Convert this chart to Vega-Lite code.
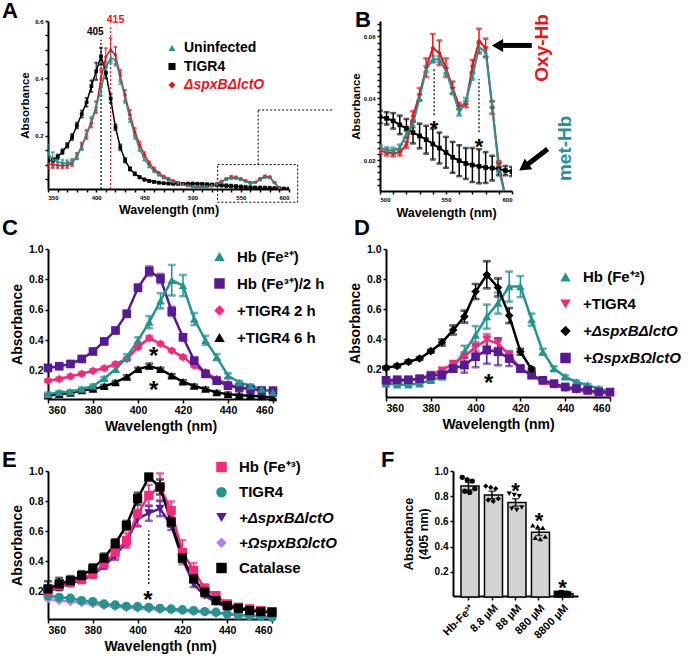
{
"$schema": "https://vega.github.io/schema/vega-lite/v6.json",
"padding": {"left": 2, "top": 0, "right": 0, "bottom": 0},
"config": {
  "view": {"stroke": null},
  "font": "Liberation Sans",
  "axis": {"domainColor": "black", "domainWidth": 2, "tickColor": "black", "tickWidth": 1.5, "labelFontWeight": "bold", "labelColor": "black", "titleFontWeight": "bold", "titleColor": "black", "grid": false, "labelFont": "Liberation Sans", "titleFont": "Liberation Sans", "labelOverlap": false},
  "legend": {"labelFontWeight": "bold", "labelColor": "black", "labelFont": "Liberation Sans", "padding": 0},
  "title": {"fontWeight": "bold", "anchor": "start", "frame": "group", "baseline": "alphabetic", "color": "black", "font": "Liberation Sans", "fontSize": 22}
},
"datasets": {
"dA": [
{"s":"TIGR4","x":350,"y":0.115,"e":0.008},{"s":"TIGR4","x":355,"y":0.115,"e":0.008},{"s":"TIGR4","x":360,"y":0.127,"e":0.008},{"s":"TIGR4","x":365,"y":0.145,"e":0.008},{"s":"TIGR4","x":370,"y":0.167,"e":0.008},{"s":"TIGR4","x":375,"y":0.196,"e":0.01},{"s":"TIGR4","x":380,"y":0.236,"e":0.01},{"s":"TIGR4","x":385,"y":0.276,"e":0.012},{"s":"TIGR4","x":390,"y":0.317,"e":0.015},{"s":"TIGR4","x":395,"y":0.373,"e":0.02},{"s":"TIGR4","x":400,"y":0.425,"e":0.03},{"s":"TIGR4","x":405,"y":0.477,"e":0.03},{"s":"TIGR4","x":410,"y":0.42,"e":0.02},{"s":"TIGR4","x":415,"y":0.33,"e":0.015},{"s":"TIGR4","x":420,"y":0.23,"e":0.01},{"s":"TIGR4","x":425,"y":0.16,"e":0.01},{"s":"TIGR4","x":430,"y":0.115,"e":0.008},{"s":"TIGR4","x":435,"y":0.085,"e":0.006},{"s":"TIGR4","x":440,"y":0.068,"e":0.005},{"s":"TIGR4","x":445,"y":0.056,"e":0.004},{"s":"TIGR4","x":450,"y":0.048,"e":0.003},{"s":"TIGR4","x":455,"y":0.043,"e":0.003},{"s":"TIGR4","x":460,"y":0.04,"e":0.003},{"s":"TIGR4","x":465,"y":0.037,"e":0.002},{"s":"TIGR4","x":470,"y":0.035,"e":0.002},{"s":"TIGR4","x":475,"y":0.034,"e":0.002},{"s":"TIGR4","x":480,"y":0.033,"e":0.002},{"s":"TIGR4","x":485,"y":0.033,"e":0.002},{"s":"TIGR4","x":490,"y":0.033,"e":0.002},{"s":"TIGR4","x":495,"y":0.0335,"e":0.002},{"s":"TIGR4","x":500,"y":0.034,"e":0.002},{"s":"TIGR4","x":505,"y":0.0335,"e":0.002},{"s":"TIGR4","x":510,"y":0.0327,"e":0.0025},{"s":"TIGR4","x":515,"y":0.0314,"e":0.003},{"s":"TIGR4","x":520,"y":0.0303,"e":0.003},{"s":"TIGR4","x":525,"y":0.0289,"e":0.0035},{"s":"TIGR4","x":530,"y":0.0278,"e":0.004},{"s":"TIGR4","x":535,"y":0.0266,"e":0.0045},{"s":"TIGR4","x":540,"y":0.0252,"e":0.005},{"s":"TIGR4","x":545,"y":0.0239,"e":0.005},{"s":"TIGR4","x":550,"y":0.0225,"e":0.005},{"s":"TIGR4","x":555,"y":0.0209,"e":0.005},{"s":"TIGR4","x":560,"y":0.0198,"e":0.005},{"s":"TIGR4","x":565,"y":0.0189,"e":0.005},{"s":"TIGR4","x":570,"y":0.0184,"e":0.0055},{"s":"TIGR4","x":575,"y":0.018,"e":0.0055},{"s":"TIGR4","x":580,"y":0.0176,"e":0.005},{"s":"TIGR4","x":585,"y":0.0174,"e":0.004},{"s":"TIGR4","x":590,"y":0.0171,"e":0.002},{"s":"TIGR4","x":595,"y":0.0166,"e":0.0015},{"s":"TIGR4","x":600,"y":0.0163,"e":0.0015},
{"s":"ΔspxBΔlctO","x":350,"y":0.1,"e":0.015},{"s":"ΔspxBΔlctO","x":355,"y":0.1,"e":0.012},{"s":"ΔspxBΔlctO","x":360,"y":0.098,"e":0.01},{"s":"ΔspxBΔlctO","x":365,"y":0.097,"e":0.01},{"s":"ΔspxBΔlctO","x":370,"y":0.098,"e":0.01},{"s":"ΔspxBΔlctO","x":375,"y":0.105,"e":0.01},{"s":"ΔspxBΔlctO","x":380,"y":0.13,"e":0.01},{"s":"ΔspxBΔlctO","x":385,"y":0.165,"e":0.012},{"s":"ΔspxBΔlctO","x":390,"y":0.205,"e":0.015},{"s":"ΔspxBΔlctO","x":395,"y":0.245,"e":0.015},{"s":"ΔspxBΔlctO","x":400,"y":0.3,"e":0.02},{"s":"ΔspxBΔlctO","x":405,"y":0.4,"e":0.03},{"s":"ΔspxBΔlctO","x":410,"y":0.475,"e":0.03},{"s":"ΔspxBΔlctO","x":415,"y":0.5,"e":0.04},{"s":"ΔspxBΔlctO","x":420,"y":0.48,"e":0.03},{"s":"ΔspxBΔlctO","x":425,"y":0.41,"e":0.02},{"s":"ΔspxBΔlctO","x":430,"y":0.34,"e":0.02},{"s":"ΔspxBΔlctO","x":435,"y":0.275,"e":0.015},{"s":"ΔspxBΔlctO","x":440,"y":0.215,"e":0.012},{"s":"ΔspxBΔlctO","x":445,"y":0.17,"e":0.01},{"s":"ΔspxBΔlctO","x":450,"y":0.135,"e":0.008},{"s":"ΔspxBΔlctO","x":455,"y":0.105,"e":0.006},{"s":"ΔspxBΔlctO","x":460,"y":0.085,"e":0.005},{"s":"ΔspxBΔlctO","x":465,"y":0.07,"e":0.004},{"s":"ΔspxBΔlctO","x":470,"y":0.058,"e":0.003},{"s":"ΔspxBΔlctO","x":475,"y":0.05,"e":0.003},{"s":"ΔspxBΔlctO","x":480,"y":0.043,"e":0.002},{"s":"ΔspxBΔlctO","x":485,"y":0.037,"e":0.002},{"s":"ΔspxBΔlctO","x":490,"y":0.032,"e":0.002},{"s":"ΔspxBΔlctO","x":495,"y":0.027,"e":0.001},{"s":"ΔspxBΔlctO","x":500,"y":0.023,"e":0.001},{"s":"ΔspxBΔlctO","x":505,"y":0.0225,"e":0.001},{"s":"ΔspxBΔlctO","x":510,"y":0.0222,"e":0.001},{"s":"ΔspxBΔlctO","x":515,"y":0.0225,"e":0.001},{"s":"ΔspxBΔlctO","x":520,"y":0.025,"e":0.001},{"s":"ΔspxBΔlctO","x":525,"y":0.0343,"e":0.0015},{"s":"ΔspxBΔlctO","x":530,"y":0.0413,"e":0.002},{"s":"ΔspxBΔlctO","x":535,"y":0.0499,"e":0.003},{"s":"ΔspxBΔlctO","x":540,"y":0.0563,"e":0.0045},{"s":"ΔspxBΔlctO","x":545,"y":0.0547,"e":0.004},{"s":"ΔspxBΔlctO","x":550,"y":0.0499,"e":0.003},{"s":"ΔspxBΔlctO","x":555,"y":0.0434,"e":0.002},{"s":"ΔspxBΔlctO","x":560,"y":0.0375,"e":0.001},{"s":"ΔspxBΔlctO","x":565,"y":0.0381,"e":0.001},{"s":"ΔspxBΔlctO","x":570,"y":0.0504,"e":0.002},{"s":"ΔspxBΔlctO","x":575,"y":0.0585,"e":0.004},{"s":"ΔspxBΔlctO","x":580,"y":0.0563,"e":0.003},{"s":"ΔspxBΔlctO","x":585,"y":0.037,"e":0.002},{"s":"ΔspxBΔlctO","x":590,"y":0.0187,"e":0.001},{"s":"ΔspxBΔlctO","x":595,"y":0.008,"e":0.001},{"s":"ΔspxBΔlctO","x":600,"y":0.004,"e":0.001},
{"s":"Uninfected","x":350,"y":0.14,"e":0.03},{"s":"Uninfected","x":355,"y":0.118,"e":0.025},{"s":"Uninfected","x":360,"y":0.11,"e":0.015},{"s":"Uninfected","x":365,"y":0.105,"e":0.012},{"s":"Uninfected","x":370,"y":0.105,"e":0.01},{"s":"Uninfected","x":375,"y":0.11,"e":0.01},{"s":"Uninfected","x":380,"y":0.128,"e":0.01},{"s":"Uninfected","x":385,"y":0.161,"e":0.01},{"s":"Uninfected","x":390,"y":0.207,"e":0.01},{"s":"Uninfected","x":395,"y":0.253,"e":0.012},{"s":"Uninfected","x":400,"y":0.304,"e":0.015},{"s":"Uninfected","x":405,"y":0.36,"e":0.02},{"s":"Uninfected","x":410,"y":0.437,"e":0.02},{"s":"Uninfected","x":415,"y":0.472,"e":0.02},{"s":"Uninfected","x":420,"y":0.465,"e":0.02},{"s":"Uninfected","x":425,"y":0.4,"e":0.02},{"s":"Uninfected","x":430,"y":0.33,"e":0.015},{"s":"Uninfected","x":435,"y":0.26,"e":0.012},{"s":"Uninfected","x":440,"y":0.2,"e":0.01},{"s":"Uninfected","x":445,"y":0.155,"e":0.008},{"s":"Uninfected","x":450,"y":0.12,"e":0.006},{"s":"Uninfected","x":455,"y":0.095,"e":0.005},{"s":"Uninfected","x":460,"y":0.078,"e":0.004},{"s":"Uninfected","x":465,"y":0.065,"e":0.003},{"s":"Uninfected","x":470,"y":0.055,"e":0.003},{"s":"Uninfected","x":475,"y":0.047,"e":0.002},{"s":"Uninfected","x":480,"y":0.041,"e":0.002},{"s":"Uninfected","x":485,"y":0.036,"e":0.002},{"s":"Uninfected","x":490,"y":0.031,"e":0.001},{"s":"Uninfected","x":495,"y":0.027,"e":0.001},{"s":"Uninfected","x":500,"y":0.0239,"e":0.001},{"s":"Uninfected","x":505,"y":0.0232,"e":0.001},{"s":"Uninfected","x":510,"y":0.023,"e":0.001},{"s":"Uninfected","x":515,"y":0.024,"e":0.001},{"s":"Uninfected","x":520,"y":0.0284,"e":0.001},{"s":"Uninfected","x":525,"y":0.0316,"e":0.001},{"s":"Uninfected","x":530,"y":0.0402,"e":0.001},{"s":"Uninfected","x":535,"y":0.0494,"e":0.001},{"s":"Uninfected","x":540,"y":0.0526,"e":0.001},{"s":"Uninfected","x":545,"y":0.0526,"e":0.001},{"s":"Uninfected","x":550,"y":0.0488,"e":0.001},{"s":"Uninfected","x":555,"y":0.0424,"e":0.001},{"s":"Uninfected","x":560,"y":0.0354,"e":0.001},{"s":"Uninfected","x":565,"y":0.0391,"e":0.001},{"s":"Uninfected","x":570,"y":0.047,"e":0.001},{"s":"Uninfected","x":575,"y":0.0565,"e":0.0015},{"s":"Uninfected","x":580,"y":0.055,"e":0.0015},{"s":"Uninfected","x":585,"y":0.038,"e":0.001},{"s":"Uninfected","x":590,"y":0.017,"e":0.001},{"s":"Uninfected","x":595,"y":0.008,"e":0.001},{"s":"Uninfected","x":600,"y":0.004,"e":0.001}
],
"dC": [
{"s":"+TIGR4 6 h","x":360,"y":0.036,"e":0.01},{"s":"+TIGR4 6 h","x":365,"y":0.047,"e":0.01},{"s":"+TIGR4 6 h","x":370,"y":0.054,"e":0.01},{"s":"+TIGR4 6 h","x":375,"y":0.07,"e":0.01},{"s":"+TIGR4 6 h","x":380,"y":0.08,"e":0.01},{"s":"+TIGR4 6 h","x":385,"y":0.098,"e":0.01},{"s":"+TIGR4 6 h","x":390,"y":0.124,"e":0.01},{"s":"+TIGR4 6 h","x":395,"y":0.16,"e":0.01},{"s":"+TIGR4 6 h","x":400,"y":0.21,"e":0.01},{"s":"+TIGR4 6 h","x":405,"y":0.232,"e":0.015},{"s":"+TIGR4 6 h","x":410,"y":0.21,"e":0.01},{"s":"+TIGR4 6 h","x":415,"y":0.168,"e":0.01},{"s":"+TIGR4 6 h","x":420,"y":0.128,"e":0.01},{"s":"+TIGR4 6 h","x":425,"y":0.1,"e":0.01},{"s":"+TIGR4 6 h","x":430,"y":0.08,"e":0.01},{"s":"+TIGR4 6 h","x":435,"y":0.058,"e":0.01},{"s":"+TIGR4 6 h","x":440,"y":0.047,"e":0.01},{"s":"+TIGR4 6 h","x":445,"y":0.04,"e":0.01},{"s":"+TIGR4 6 h","x":450,"y":0.036,"e":0.01},{"s":"+TIGR4 6 h","x":455,"y":0.032,"e":0.01},{"s":"+TIGR4 6 h","x":460,"y":0.025,"e":0.01},
{"s":"+TIGR4 2 h","x":360,"y":0.135,"e":0.01},{"s":"+TIGR4 2 h","x":365,"y":0.146,"e":0.01},{"s":"+TIGR4 2 h","x":370,"y":0.164,"e":0.01},{"s":"+TIGR4 2 h","x":375,"y":0.18,"e":0.01},{"s":"+TIGR4 2 h","x":380,"y":0.2,"e":0.01},{"s":"+TIGR4 2 h","x":385,"y":0.217,"e":0.01},{"s":"+TIGR4 2 h","x":390,"y":0.245,"e":0.01},{"s":"+TIGR4 2 h","x":395,"y":0.278,"e":0.01},{"s":"+TIGR4 2 h","x":400,"y":0.355,"e":0.01},{"s":"+TIGR4 2 h","x":405,"y":0.415,"e":0.015},{"s":"+TIGR4 2 h","x":410,"y":0.378,"e":0.01},{"s":"+TIGR4 2 h","x":415,"y":0.333,"e":0.01},{"s":"+TIGR4 2 h","x":420,"y":0.29,"e":0.01},{"s":"+TIGR4 2 h","x":425,"y":0.234,"e":0.01},{"s":"+TIGR4 2 h","x":430,"y":0.19,"e":0.01},{"s":"+TIGR4 2 h","x":435,"y":0.146,"e":0.01},{"s":"+TIGR4 2 h","x":440,"y":0.113,"e":0.01},{"s":"+TIGR4 2 h","x":445,"y":0.09,"e":0.01},{"s":"+TIGR4 2 h","x":450,"y":0.08,"e":0.01},{"s":"+TIGR4 2 h","x":455,"y":0.07,"e":0.01},{"s":"+TIGR4 2 h","x":460,"y":0.07,"e":0.01},
{"s":"Hb (Fe³⁺)/2 h","x":360,"y":0.219,"e":0.01},{"s":"Hb (Fe³⁺)/2 h","x":365,"y":0.23,"e":0.01},{"s":"Hb (Fe³⁺)/2 h","x":370,"y":0.245,"e":0.01},{"s":"Hb (Fe³⁺)/2 h","x":375,"y":0.278,"e":0.01},{"s":"Hb (Fe³⁺)/2 h","x":380,"y":0.327,"e":0.01},{"s":"Hb (Fe³⁺)/2 h","x":385,"y":0.393,"e":0.01},{"s":"Hb (Fe³⁺)/2 h","x":390,"y":0.465,"e":0.01},{"s":"Hb (Fe³⁺)/2 h","x":395,"y":0.575,"e":0.015},{"s":"Hb (Fe³⁺)/2 h","x":400,"y":0.745,"e":0.02},{"s":"Hb (Fe³⁺)/2 h","x":405,"y":0.855,"e":0.03},{"s":"Hb (Fe³⁺)/2 h","x":410,"y":0.806,"e":0.03},{"s":"Hb (Fe³⁺)/2 h","x":415,"y":0.59,"e":0.03},{"s":"Hb (Fe³⁺)/2 h","x":420,"y":0.42,"e":0.02},{"s":"Hb (Fe³⁺)/2 h","x":425,"y":0.267,"e":0.01},{"s":"Hb (Fe³⁺)/2 h","x":430,"y":0.18,"e":0.01},{"s":"Hb (Fe³⁺)/2 h","x":435,"y":0.135,"e":0.01},{"s":"Hb (Fe³⁺)/2 h","x":440,"y":0.102,"e":0.01},{"s":"Hb (Fe³⁺)/2 h","x":445,"y":0.09,"e":0.01},{"s":"Hb (Fe³⁺)/2 h","x":450,"y":0.08,"e":0.01},{"s":"Hb (Fe³⁺)/2 h","x":455,"y":0.07,"e":0.01},{"s":"Hb (Fe³⁺)/2 h","x":460,"y":0.07,"e":0.01},
{"s":"Hb (Fe²⁺)","x":360,"y":0.047,"e":0.01},{"s":"Hb (Fe²⁺)","x":365,"y":0.058,"e":0.01},{"s":"Hb (Fe²⁺)","x":370,"y":0.063,"e":0.01},{"s":"Hb (Fe²⁺)","x":375,"y":0.08,"e":0.01},{"s":"Hb (Fe²⁺)","x":380,"y":0.1,"e":0.01},{"s":"Hb (Fe²⁺)","x":385,"y":0.15,"e":0.01},{"s":"Hb (Fe²⁺)","x":390,"y":0.21,"e":0.015},{"s":"Hb (Fe²⁺)","x":395,"y":0.29,"e":0.02},{"s":"Hb (Fe²⁺)","x":400,"y":0.4,"e":0.02},{"s":"Hb (Fe²⁺)","x":405,"y":0.52,"e":0.04},{"s":"Hb (Fe²⁺)","x":410,"y":0.66,"e":0.05},{"s":"Hb (Fe²⁺)","x":415,"y":0.795,"e":0.1},{"s":"Hb (Fe²⁺)","x":420,"y":0.76,"e":0.07},{"s":"Hb (Fe²⁺)","x":425,"y":0.54,"e":0.04},{"s":"Hb (Fe²⁺)","x":430,"y":0.4,"e":0.03},{"s":"Hb (Fe²⁺)","x":435,"y":0.29,"e":0.02},{"s":"Hb (Fe²⁺)","x":440,"y":0.168,"e":0.015},{"s":"Hb (Fe²⁺)","x":445,"y":0.124,"e":0.01},{"s":"Hb (Fe²⁺)","x":450,"y":0.1,"e":0.01},{"s":"Hb (Fe²⁺)","x":455,"y":0.08,"e":0.01},{"s":"Hb (Fe²⁺)","x":460,"y":0.058,"e":0.01}
],
"dD": [
{"s":"Hb (Fe⁺²)","x":360,"y":0.104,"e":0.01},{"s":"Hb (Fe⁺²)","x":365,"y":0.097,"e":0.01},{"s":"Hb (Fe⁺²)","x":370,"y":0.097,"e":0.01},{"s":"Hb (Fe⁺²)","x":375,"y":0.104,"e":0.01},{"s":"Hb (Fe⁺²)","x":380,"y":0.126,"e":0.01},{"s":"Hb (Fe⁺²)","x":385,"y":0.149,"e":0.015},{"s":"Hb (Fe⁺²)","x":390,"y":0.216,"e":0.02},{"s":"Hb (Fe⁺²)","x":395,"y":0.316,"e":0.04},{"s":"Hb (Fe⁺²)","x":400,"y":0.427,"e":0.06},{"s":"Hb (Fe⁺²)","x":405,"y":0.55,"e":0.08},{"s":"Hb (Fe⁺²)","x":410,"y":0.64,"e":0.07},{"s":"Hb (Fe⁺²)","x":415,"y":0.75,"e":0.1},{"s":"Hb (Fe⁺²)","x":420,"y":0.75,"e":0.07},{"s":"Hb (Fe⁺²)","x":425,"y":0.53,"e":0.04},{"s":"Hb (Fe⁺²)","x":430,"y":0.316,"e":0.02},{"s":"Hb (Fe⁺²)","x":435,"y":0.204,"e":0.015},{"s":"Hb (Fe⁺²)","x":440,"y":0.149,"e":0.01},{"s":"Hb (Fe⁺²)","x":445,"y":0.115,"e":0.01},{"s":"Hb (Fe⁺²)","x":450,"y":0.093,"e":0.01},{"s":"Hb (Fe⁺²)","x":455,"y":0.071,"e":0.01},{"s":"Hb (Fe⁺²)","x":460,"y":0.048,"e":0.01},
{"s":"+TIGR4","x":360,"y":0.115,"e":0.01},{"s":"+TIGR4","x":365,"y":0.118,"e":0.01},{"s":"+TIGR4","x":370,"y":0.126,"e":0.01},{"s":"+TIGR4","x":375,"y":0.137,"e":0.01},{"s":"+TIGR4","x":380,"y":0.164,"e":0.01},{"s":"+TIGR4","x":385,"y":0.193,"e":0.01},{"s":"+TIGR4","x":390,"y":0.238,"e":0.01},{"s":"+TIGR4","x":395,"y":0.283,"e":0.03},{"s":"+TIGR4","x":400,"y":0.35,"e":0.03},{"s":"+TIGR4","x":405,"y":0.394,"e":0.04},{"s":"+TIGR4","x":410,"y":0.372,"e":0.03},{"s":"+TIGR4","x":415,"y":0.294,"e":0.01},{"s":"+TIGR4","x":420,"y":0.204,"e":0.01},{"s":"+TIGR4","x":425,"y":0.16,"e":0.01},{"s":"+TIGR4","x":430,"y":0.115,"e":0.01},{"s":"+TIGR4","x":435,"y":0.093,"e":0.01},{"s":"+TIGR4","x":440,"y":0.071,"e":0.01},{"s":"+TIGR4","x":445,"y":0.06,"e":0.01},{"s":"+TIGR4","x":450,"y":0.048,"e":0.01},{"s":"+TIGR4","x":455,"y":0.042,"e":0.01},{"s":"+TIGR4","x":460,"y":0.037,"e":0.01},
{"s":"+ΩspxBΩlctO","x":360,"y":0.126,"e":0.01},{"s":"+ΩspxBΩlctO","x":365,"y":0.13,"e":0.01},{"s":"+ΩspxBΩlctO","x":370,"y":0.13,"e":0.01},{"s":"+ΩspxBΩlctO","x":375,"y":0.137,"e":0.01},{"s":"+ΩspxBΩlctO","x":380,"y":0.155,"e":0.01},{"s":"+ΩspxBΩlctO","x":385,"y":0.164,"e":0.01},{"s":"+ΩspxBΩlctO","x":390,"y":0.204,"e":0.02},{"s":"+ΩspxBΩlctO","x":395,"y":0.227,"e":0.05},{"s":"+ΩspxBΩlctO","x":400,"y":0.283,"e":0.07},{"s":"+ΩspxBΩlctO","x":405,"y":0.327,"e":0.09},{"s":"+ΩspxBΩlctO","x":410,"y":0.316,"e":0.09},{"s":"+ΩspxBΩlctO","x":415,"y":0.271,"e":0.05},{"s":"+ΩspxBΩlctO","x":420,"y":0.204,"e":0.02},{"s":"+ΩspxBΩlctO","x":425,"y":0.16,"e":0.01},{"s":"+ΩspxBΩlctO","x":430,"y":0.126,"e":0.01},{"s":"+ΩspxBΩlctO","x":435,"y":0.104,"e":0.01},{"s":"+ΩspxBΩlctO","x":440,"y":0.082,"e":0.01},{"s":"+ΩspxBΩlctO","x":445,"y":0.071,"e":0.01},{"s":"+ΩspxBΩlctO","x":450,"y":0.06,"e":0.01},{"s":"+ΩspxBΩlctO","x":455,"y":0.048,"e":0.01},{"s":"+ΩspxBΩlctO","x":460,"y":0.048,"e":0.01},
{"s":"+ΔspxBΔlctO","x":360,"y":0.209,"e":0.01},{"s":"+ΔspxBΔlctO","x":365,"y":0.222,"e":0.01},{"s":"+ΔspxBΔlctO","x":370,"y":0.249,"e":0.01},{"s":"+ΔspxBΔlctO","x":375,"y":0.271,"e":0.01},{"s":"+ΔspxBΔlctO","x":380,"y":0.32,"e":0.01},{"s":"+ΔspxBΔlctO","x":385,"y":0.378,"e":0.02},{"s":"+ΔspxBΔlctO","x":390,"y":0.461,"e":0.03},{"s":"+ΔspxBΔlctO","x":395,"y":0.55,"e":0.04},{"s":"+ΔspxBΔlctO","x":400,"y":0.717,"e":0.05},{"s":"+ΔspxBΔlctO","x":405,"y":0.828,"e":0.09},{"s":"+ΔspxBΔlctO","x":410,"y":0.744,"e":0.06},{"s":"+ΔspxBΔlctO","x":415,"y":0.557,"e":0.05},{"s":"+ΔspxBΔlctO","x":420,"y":0.316,"e":0.02},{"s":"+ΔspxBΔlctO","x":425,"y":0.2,"e":0.01}
],
"dE": [
{"s":"+ΩspxBΩlctO","x":360,"y":0.151,"e":0.005},{"s":"+ΩspxBΩlctO","x":365,"y":0.14,"e":0.005},{"s":"+ΩspxBΩlctO","x":370,"y":0.134,"e":0.005},{"s":"+ΩspxBΩlctO","x":375,"y":0.125,"e":0.005},{"s":"+ΩspxBΩlctO","x":380,"y":0.118,"e":0.005},{"s":"+ΩspxBΩlctO","x":385,"y":0.107,"e":0.005},{"s":"+ΩspxBΩlctO","x":390,"y":0.1,"e":0.005},{"s":"+ΩspxBΩlctO","x":395,"y":0.094,"e":0.005},{"s":"+ΩspxBΩlctO","x":400,"y":0.089,"e":0.005},{"s":"+ΩspxBΩlctO","x":405,"y":0.085,"e":0.005},{"s":"+ΩspxBΩlctO","x":410,"y":0.08,"e":0.005},{"s":"+ΩspxBΩlctO","x":415,"y":0.076,"e":0.005},{"s":"+ΩspxBΩlctO","x":420,"y":0.071,"e":0.005},{"s":"+ΩspxBΩlctO","x":425,"y":0.067,"e":0.005},{"s":"+ΩspxBΩlctO","x":430,"y":0.063,"e":0.005},{"s":"+ΩspxBΩlctO","x":435,"y":0.056,"e":0.005},{"s":"+ΩspxBΩlctO","x":440,"y":0.049,"e":0.005},{"s":"+ΩspxBΩlctO","x":445,"y":0.045,"e":0.005},{"s":"+ΩspxBΩlctO","x":450,"y":0.04,"e":0.005},{"s":"+ΩspxBΩlctO","x":455,"y":0.036,"e":0.005},{"s":"+ΩspxBΩlctO","x":460,"y":0.029,"e":0.005},
{"s":"TIGR4","x":360,"y":0.173,"e":0.006},{"s":"TIGR4","x":365,"y":0.162,"e":0.006},{"s":"TIGR4","x":370,"y":0.156,"e":0.006},{"s":"TIGR4","x":375,"y":0.14,"e":0.006},{"s":"TIGR4","x":380,"y":0.134,"e":0.006},{"s":"TIGR4","x":385,"y":0.118,"e":0.006},{"s":"TIGR4","x":390,"y":0.111,"e":0.006},{"s":"TIGR4","x":395,"y":0.102,"e":0.006},{"s":"TIGR4","x":400,"y":0.1,"e":0.006},{"s":"TIGR4","x":405,"y":0.096,"e":0.006},{"s":"TIGR4","x":410,"y":0.089,"e":0.006},{"s":"TIGR4","x":415,"y":0.085,"e":0.006},{"s":"TIGR4","x":420,"y":0.08,"e":0.006},{"s":"TIGR4","x":425,"y":0.074,"e":0.006},{"s":"TIGR4","x":430,"y":0.067,"e":0.006},{"s":"TIGR4","x":435,"y":0.063,"e":0.006},{"s":"TIGR4","x":440,"y":0.052,"e":0.006},{"s":"TIGR4","x":445,"y":0.045,"e":0.006},{"s":"TIGR4","x":450,"y":0.04,"e":0.006},{"s":"TIGR4","x":455,"y":0.036,"e":0.006},{"s":"TIGR4","x":460,"y":0.029,"e":0.006},
{"s":"+ΔspxBΔlctO","x":360,"y":0.2,"e":0.02},{"s":"+ΔspxBΔlctO","x":365,"y":0.23,"e":0.02},{"s":"+ΔspxBΔlctO","x":370,"y":0.255,"e":0.02},{"s":"+ΔspxBΔlctO","x":375,"y":0.275,"e":0.02},{"s":"+ΔspxBΔlctO","x":380,"y":0.31,"e":0.02},{"s":"+ΔspxBΔlctO","x":385,"y":0.37,"e":0.02},{"s":"+ΔspxBΔlctO","x":390,"y":0.44,"e":0.03},{"s":"+ΔspxBΔlctO","x":395,"y":0.53,"e":0.03},{"s":"+ΔspxBΔlctO","x":400,"y":0.683,"e":0.05},{"s":"+ΔspxBΔlctO","x":405,"y":0.72,"e":0.05},{"s":"+ΔspxBΔlctO","x":410,"y":0.75,"e":0.05},{"s":"+ΔspxBΔlctO","x":415,"y":0.639,"e":0.03},{"s":"+ΔspxBΔlctO","x":420,"y":0.417,"e":0.02},{"s":"+ΔspxBΔlctO","x":425,"y":0.25,"e":0.02},{"s":"+ΔspxBΔlctO","x":430,"y":0.173,"e":0.01},{"s":"+ΔspxBΔlctO","x":435,"y":0.129,"e":0.01},{"s":"+ΔspxBΔlctO","x":440,"y":0.096,"e":0.01},{"s":"+ΔspxBΔlctO","x":445,"y":0.085,"e":0.01},{"s":"+ΔspxBΔlctO","x":450,"y":0.074,"e":0.01},{"s":"+ΔspxBΔlctO","x":455,"y":0.067,"e":0.01},{"s":"+ΔspxBΔlctO","x":460,"y":0.06,"e":0.01},
{"s":"Hb (Fe⁺³)","x":360,"y":0.207,"e":0.03},{"s":"Hb (Fe⁺³)","x":365,"y":0.24,"e":0.02},{"s":"Hb (Fe⁺³)","x":370,"y":0.262,"e":0.02},{"s":"Hb (Fe⁺³)","x":375,"y":0.284,"e":0.02},{"s":"Hb (Fe⁺³)","x":380,"y":0.317,"e":0.02},{"s":"Hb (Fe⁺³)","x":385,"y":0.384,"e":0.03},{"s":"Hb (Fe⁺³)","x":390,"y":0.461,"e":0.04},{"s":"Hb (Fe⁺³)","x":395,"y":0.539,"e":0.05},{"s":"Hb (Fe⁺³)","x":400,"y":0.716,"e":0.08},{"s":"Hb (Fe⁺³)","x":405,"y":0.838,"e":0.07},{"s":"Hb (Fe⁺³)","x":410,"y":0.894,"e":0.09},{"s":"Hb (Fe⁺³)","x":415,"y":0.738,"e":0.06},{"s":"Hb (Fe⁺³)","x":420,"y":0.461,"e":0.08},{"s":"Hb (Fe⁺³)","x":425,"y":0.34,"e":0.05},{"s":"Hb (Fe⁺³)","x":430,"y":0.218,"e":0.03},{"s":"Hb (Fe⁺³)","x":435,"y":0.173,"e":0.02},{"s":"Hb (Fe⁺³)","x":440,"y":0.118,"e":0.02},{"s":"Hb (Fe⁺³)","x":445,"y":0.096,"e":0.02},{"s":"Hb (Fe⁺³)","x":450,"y":0.085,"e":0.02},{"s":"Hb (Fe⁺³)","x":455,"y":0.074,"e":0.02},{"s":"Hb (Fe⁺³)","x":460,"y":0.067,"e":0.02},
{"s":"Catalase","x":360,"y":0.218,"e":0.05},{"s":"Catalase","x":365,"y":0.251,"e":0.04},{"s":"Catalase","x":370,"y":0.273,"e":0.03},{"s":"Catalase","x":375,"y":0.306,"e":0.03},{"s":"Catalase","x":380,"y":0.351,"e":0.03},{"s":"Catalase","x":385,"y":0.422,"e":0.03},{"s":"Catalase","x":390,"y":0.517,"e":0.03},{"s":"Catalase","x":395,"y":0.639,"e":0.03},{"s":"Catalase","x":400,"y":0.816,"e":0.04},{"s":"Catalase","x":405,"y":0.96,"e":0.02},{"s":"Catalase","x":410,"y":0.894,"e":0.05},{"s":"Catalase","x":415,"y":0.661,"e":0.03},{"s":"Catalase","x":420,"y":0.422,"e":0.02},{"s":"Catalase","x":425,"y":0.284,"e":0.02},{"s":"Catalase","x":430,"y":0.196,"e":0.01},{"s":"Catalase","x":435,"y":0.14,"e":0.01},{"s":"Catalase","x":440,"y":0.107,"e":0.01},{"s":"Catalase","x":445,"y":0.089,"e":0.01},{"s":"Catalase","x":450,"y":0.074,"e":0.01},{"s":"Catalase","x":455,"y":0.067,"e":0.01},{"s":"Catalase","x":460,"y":0.063,"e":0.01}
],
"dF": [
{"c":"Hb-Fe³⁺","y":0.88,"e":0.03},{"c":"8.8 µM","y":0.81,"e":0.03},{"c":"88 µM","y":0.75,"e":0.03},{"c":"880 µM","y":0.513,"e":0.025},{"c":"8800 µM","y":0.025,"e":0.008}
],
"dFp": [
{"c":"Hb-Fe³⁺","r":1,"y":0.95},{"c":"Hb-Fe³⁺","r":2,"y":0.84},{"c":"Hb-Fe³⁺","r":3,"y":0.93},{"c":"Hb-Fe³⁺","r":4,"y":0.83},{"c":"Hb-Fe³⁺","r":5,"y":0.92},{"c":"Hb-Fe³⁺","r":6,"y":0.86},
{"c":"8.8 µM","r":1,"y":0.88},{"c":"8.8 µM","r":2,"y":0.77},{"c":"8.8 µM","r":3,"y":0.87},{"c":"8.8 µM","r":4,"y":0.76},{"c":"8.8 µM","r":5,"y":0.86},{"c":"8.8 µM","r":6,"y":0.78},
{"c":"88 µM","r":1,"y":0.82},{"c":"88 µM","r":2,"y":0.7},{"c":"88 µM","r":3,"y":0.81},{"c":"88 µM","r":4,"y":0.69},{"c":"88 µM","r":5,"y":0.8},{"c":"88 µM","r":6,"y":0.71},
{"c":"880 µM","r":1,"y":0.57},{"c":"880 µM","r":2,"y":0.47},{"c":"880 µM","r":3,"y":0.56},{"c":"880 µM","r":4,"y":0.46},{"c":"880 µM","r":5,"y":0.55},{"c":"880 µM","r":6,"y":0.48},
{"c":"8800 µM","r":1,"y":0.03},{"c":"8800 µM","r":2,"y":0.02},{"c":"8800 µM","r":3,"y":0.035},{"c":"8800 µM","r":4,"y":0.02},{"c":"8800 µM","r":5,"y":0.03},{"c":"8800 µM","r":6,"y":0.025}
]
},
"resolve": {"scale": {"x": "independent", "y": "independent", "color": "independent", "shape": "independent", "stroke": "independent"}},
"align": "none",
"spacing": -2,
"vconcat": [
{
 "align": "none",
 "spacing": 16,
 "resolve": {"scale": {"x": "independent", "y": "independent", "color": "independent", "shape": "independent", "stroke": "independent"}},
 "hconcat": [
 {
  "width": 241, "height": 168,
  "title": {"text": "A", "dx": -46, "offset": -8},
  "layer": [
   {"data": {"values": [{}]}, "mark": {"type": "rect", "fillOpacity": 0, "stroke": "black", "strokeWidth": 1, "strokeDash": [2, 2]},
    "encoding": {"x": {"datum": 526, "type": "quantitative", "title": "Wavelength (nm)", "scale": {"domain": [350, 600], "nice": false, "zero": false}, "axis": {"titleFontSize": 12.5, "labelFontSize": 6, "labelOverlap": false, "values": [350,360,370,380,390,400,410,420,430,440,450,460,470,480,490,500,510,520,530,540,550,560,570,580,590,600], "labelExpr": "datum.value % 50 == 0 ? datum.label : ''", "tickSize": 3, "labelPadding": 2, "titlePadding": 3}}, "x2": {"datum": 609}, "y": {"datum": -0.031, "type": "quantitative", "title": "Absorbance", "scale": {"domain": [0.015, 0.6], "nice": false, "zero": false}, "axis": {"titleFontSize": 11.5, "labelFontSize": 6, "labelOverlap": false, "values": [0.05,0.1,0.15,0.2,0.25,0.3,0.35,0.4,0.45,0.5,0.55,0.6], "labelExpr": "abs(datum.value*5 - round(datum.value*5)) < 0.01 ? format(datum.value, '.1f') : ''", "tickSize": 3, "labelPadding": 2, "titlePadding": 4}}, "y2": {"datum": 0.1}}},
   {"data": {"values": [{}]}, "mark": {"type": "rule", "color": "black", "strokeWidth": 1, "strokeDash": [2, 2]},
    "encoding": {"x": {"datum": 568, "type": "quantitative", "title": "Wavelength (nm)", "scale": {"domain": [350, 600], "nice": false, "zero": false}, "axis": {"titleFontSize": 12.5, "labelFontSize": 6, "labelOverlap": false, "values": [350,360,370,380,390,400,410,420,430,440,450,460,470,480,490,500,510,520,530,540,550,560,570,580,590,600], "labelExpr": "datum.value % 50 == 0 ? datum.label : ''", "tickSize": 3, "labelPadding": 2, "titlePadding": 3}}, "y": {"datum": 0.1, "type": "quantitative", "title": "Absorbance", "scale": {"domain": [0.015, 0.6], "nice": false, "zero": false}, "axis": {"titleFontSize": 11.5, "labelFontSize": 6, "labelOverlap": false, "values": [0.05,0.1,0.15,0.2,0.25,0.3,0.35,0.4,0.45,0.5,0.55,0.6], "labelExpr": "abs(datum.value*5 - round(datum.value*5)) < 0.01 ? format(datum.value, '.1f') : ''", "tickSize": 3, "labelPadding": 2, "titlePadding": 4}}, "y2": {"datum": 0.29}}},
   {"data": {"values": [{}]}, "mark": {"type": "rule", "color": "black", "strokeWidth": 1, "strokeDash": [2, 2]},
    "encoding": {"x": {"datum": 568, "type": "quantitative", "title": "Wavelength (nm)", "scale": {"domain": [350, 600], "nice": false, "zero": false}, "axis": {"titleFontSize": 12.5, "labelFontSize": 6, "labelOverlap": false, "values": [350,360,370,380,390,400,410,420,430,440,450,460,470,480,490,500,510,520,530,540,550,560,570,580,590,600], "labelExpr": "datum.value % 50 == 0 ? datum.label : ''", "tickSize": 3, "labelPadding": 2, "titlePadding": 3}}, "x2": {"datum": 646}, "y": {"datum": 0.29, "type": "quantitative", "title": "Absorbance", "scale": {"domain": [0.015, 0.6], "nice": false, "zero": false}, "axis": {"titleFontSize": 11.5, "labelFontSize": 6, "labelOverlap": false, "values": [0.05,0.1,0.15,0.2,0.25,0.3,0.35,0.4,0.45,0.5,0.55,0.6], "labelExpr": "abs(datum.value*5 - round(datum.value*5)) < 0.01 ? format(datum.value, '.1f') : ''", "tickSize": 3, "labelPadding": 2, "titlePadding": 4}}}},
   {"data": {"values": [{}]}, "mark": {"type": "rule", "color": "black", "strokeWidth": 1.2, "strokeDash": [2, 2]},
    "encoding": {"x": {"datum": 405, "type": "quantitative", "title": "Wavelength (nm)", "scale": {"domain": [350, 600], "nice": false, "zero": false}, "axis": {"titleFontSize": 12.5, "labelFontSize": 6, "labelOverlap": false, "values": [350,360,370,380,390,400,410,420,430,440,450,460,470,480,490,500,510,520,530,540,550,560,570,580,590,600], "labelExpr": "datum.value % 50 == 0 ? datum.label : ''", "tickSize": 3, "labelPadding": 2, "titlePadding": 3}}, "y": {"datum": 0.015, "type": "quantitative", "title": "Absorbance", "scale": {"domain": [0.015, 0.6], "nice": false, "zero": false}, "axis": {"titleFontSize": 11.5, "labelFontSize": 6, "labelOverlap": false, "values": [0.05,0.1,0.15,0.2,0.25,0.3,0.35,0.4,0.45,0.5,0.55,0.6], "labelExpr": "abs(datum.value*5 - round(datum.value*5)) < 0.01 ? format(datum.value, '.1f') : ''", "tickSize": 3, "labelPadding": 2, "titlePadding": 4}}, "y2": {"datum": 0.535}}},
   {"data": {"values": [{}]}, "mark": {"type": "rule", "color": "#e8161d", "strokeWidth": 1.2, "strokeDash": [2, 2]},
    "encoding": {"x": {"datum": 415, "type": "quantitative", "title": "Wavelength (nm)", "scale": {"domain": [350, 600], "nice": false, "zero": false}, "axis": {"titleFontSize": 12.5, "labelFontSize": 6, "labelOverlap": false, "values": [350,360,370,380,390,400,410,420,430,440,450,460,470,480,490,500,510,520,530,540,550,560,570,580,590,600], "labelExpr": "datum.value % 50 == 0 ? datum.label : ''", "tickSize": 3, "labelPadding": 2, "titlePadding": 3}}, "y": {"datum": 0.015, "type": "quantitative", "title": "Absorbance", "scale": {"domain": [0.015, 0.6], "nice": false, "zero": false}, "axis": {"titleFontSize": 11.5, "labelFontSize": 6, "labelOverlap": false, "values": [0.05,0.1,0.15,0.2,0.25,0.3,0.35,0.4,0.45,0.5,0.55,0.6], "labelExpr": "abs(datum.value*5 - round(datum.value*5)) < 0.01 ? format(datum.value, '.1f') : ''", "tickSize": 3, "labelPadding": 2, "titlePadding": 4}}, "y2": {"datum": 0.585}}},
   {"data": {"values": [{}]}, "mark": {"type": "text", "text": "405", "fontSize": 10, "fontWeight": "bold", "color": "black", "baseline": "middle"},
    "encoding": {"x": {"datum": 399, "type": "quantitative", "title": "Wavelength (nm)", "scale": {"domain": [350, 600], "nice": false, "zero": false}, "axis": {"titleFontSize": 12.5, "labelFontSize": 6, "labelOverlap": false, "values": [350,360,370,380,390,400,410,420,430,440,450,460,470,480,490,500,510,520,530,540,550,560,570,580,590,600], "labelExpr": "datum.value % 50 == 0 ? datum.label : ''", "tickSize": 3, "labelPadding": 2, "titlePadding": 3}}, "y": {"datum": 0.562, "type": "quantitative", "title": "Absorbance", "scale": {"domain": [0.015, 0.6], "nice": false, "zero": false}, "axis": {"titleFontSize": 11.5, "labelFontSize": 6, "labelOverlap": false, "values": [0.05,0.1,0.15,0.2,0.25,0.3,0.35,0.4,0.45,0.5,0.55,0.6], "labelExpr": "abs(datum.value*5 - round(datum.value*5)) < 0.01 ? format(datum.value, '.1f') : ''", "tickSize": 3, "labelPadding": 2, "titlePadding": 4}}}},
   {"data": {"values": [{}]}, "mark": {"type": "text", "text": "415", "fontSize": 10.5, "fontWeight": "bold", "color": "#e8161d", "baseline": "middle"},
    "encoding": {"x": {"datum": 420, "type": "quantitative", "title": "Wavelength (nm)", "scale": {"domain": [350, 600], "nice": false, "zero": false}, "axis": {"titleFontSize": 12.5, "labelFontSize": 6, "labelOverlap": false, "values": [350,360,370,380,390,400,410,420,430,440,450,460,470,480,490,500,510,520,530,540,550,560,570,580,590,600], "labelExpr": "datum.value % 50 == 0 ? datum.label : ''", "tickSize": 3, "labelPadding": 2, "titlePadding": 3}}, "y": {"datum": 0.603, "type": "quantitative", "title": "Absorbance", "scale": {"domain": [0.015, 0.6], "nice": false, "zero": false}, "axis": {"titleFontSize": 11.5, "labelFontSize": 6, "labelOverlap": false, "values": [0.05,0.1,0.15,0.2,0.25,0.3,0.35,0.4,0.45,0.5,0.55,0.6], "labelExpr": "abs(datum.value*5 - round(datum.value*5)) < 0.01 ? format(datum.value, '.1f') : ''", "tickSize": 3, "labelPadding": 2, "titlePadding": 4}}}},
   {"data": {"name": "dA"}, "mark": {"type": "errorbar", "ticks": {"size": 3}, "thickness": 1, "clip": true},
    "encoding": {
     "x": {"field": "x", "type": "quantitative", "title": "Wavelength (nm)", "scale": {"domain": [350, 600], "nice": false, "zero": false}, "axis": {"titleFontSize": 12.5, "labelFontSize": 6, "labelOverlap": false, "values": [350,360,370,380,390,400,410,420,430,440,450,460,470,480,490,500,510,520,530,540,550,560,570,580,590,600], "labelExpr": "datum.value % 50 == 0 ? datum.label : ''", "tickSize": 3, "labelPadding": 2, "titlePadding": 3}},
     "y": {"field": "y", "type": "quantitative", "title": "Absorbance", "scale": {"domain": [0.015, 0.6], "nice": false, "zero": false}, "axis": {"titleFontSize": 11.5, "labelFontSize": 6, "labelOverlap": false, "values": [0.05,0.1,0.15,0.2,0.25,0.3,0.35,0.4,0.45,0.5,0.55,0.6], "labelExpr": "abs(datum.value*5 - round(datum.value*5)) < 0.01 ? format(datum.value, '.1f') : ''", "tickSize": 3, "labelPadding": 2, "titlePadding": 4}},
     "yError": {"field": "e"},
     "stroke": {"field": "s", "type": "nominal", "scale": {"domain": ["ΔspxBΔlctO", "TIGR4", "Uninfected"], "range": ["#e8161d", "#000000", "#23948f"]}, "legend": null}}},
   {"data": {"name": "dA"}, "mark": {"type": "line", "strokeWidth": 1.5, "clip": true},
    "encoding": {
     "x": {"field": "x", "type": "quantitative", "title": "Wavelength (nm)", "scale": {"domain": [350, 600], "nice": false, "zero": false}, "axis": {"titleFontSize": 12.5, "labelFontSize": 6, "labelOverlap": false, "values": [350,360,370,380,390,400,410,420,430,440,450,460,470,480,490,500,510,520,530,540,550,560,570,580,590,600], "labelExpr": "datum.value % 50 == 0 ? datum.label : ''", "tickSize": 3, "labelPadding": 2, "titlePadding": 3}},
     "y": {"field": "y", "type": "quantitative", "title": "Absorbance", "scale": {"domain": [0.015, 0.6], "nice": false, "zero": false}, "axis": {"titleFontSize": 11.5, "labelFontSize": 6, "labelOverlap": false, "values": [0.05,0.1,0.15,0.2,0.25,0.3,0.35,0.4,0.45,0.5,0.55,0.6], "labelExpr": "abs(datum.value*5 - round(datum.value*5)) < 0.01 ? format(datum.value, '.1f') : ''", "tickSize": 3, "labelPadding": 2, "titlePadding": 4}},
     "stroke": {"field": "s", "type": "nominal", "scale": {"domain": ["ΔspxBΔlctO", "TIGR4", "Uninfected"], "range": ["#e8161d", "#000000", "#23948f"]}, "legend": null}}},
   {"data": {"name": "dA"}, "mark": {"type": "point", "filled": true, "size": 14, "opacity": 1, "clip": true},
    "encoding": {
     "x": {"field": "x", "type": "quantitative", "title": "Wavelength (nm)", "scale": {"domain": [350, 600], "nice": false, "zero": false}, "axis": {"titleFontSize": 12.5, "labelFontSize": 6, "labelOverlap": false, "values": [350,360,370,380,390,400,410,420,430,440,450,460,470,480,490,500,510,520,530,540,550,560,570,580,590,600], "labelExpr": "datum.value % 50 == 0 ? datum.label : ''", "tickSize": 3, "labelPadding": 2, "titlePadding": 3}},
     "y": {"field": "y", "type": "quantitative", "title": "Absorbance", "scale": {"domain": [0.015, 0.6], "nice": false, "zero": false}, "axis": {"titleFontSize": 11.5, "labelFontSize": 6, "labelOverlap": false, "values": [0.05,0.1,0.15,0.2,0.25,0.3,0.35,0.4,0.45,0.5,0.55,0.6], "labelExpr": "abs(datum.value*5 - round(datum.value*5)) < 0.01 ? format(datum.value, '.1f') : ''", "tickSize": 3, "labelPadding": 2, "titlePadding": 4}},
     "color": {"field": "s", "type": "nominal", "scale": {"domain": ["Uninfected", "TIGR4", "ΔspxBΔlctO"], "range": ["#23948f", "#000000", "#e8161d"]},
       "legend": {"title": null, "orient": "none", "legendX": 117, "legendY": 20, "labelFontSize": 14, "symbolSize": 50, "rowPadding": 4.5, "labelOffset": 5,
         "labelColor": {"expr": "datum.label == 'ΔspxBΔlctO' ? '#e8161d' : 'black'"},
         "labelFontStyle": {"expr": "datum.label == 'ΔspxBΔlctO' ? 'italic' : 'normal'"}}},
     "shape": {"field": "s", "type": "nominal", "scale": {"domain": ["Uninfected", "TIGR4", "ΔspxBΔlctO"], "range": ["triangle-up", "square", "diamond"]},
       "legend": {"title": null, "orient": "none", "legendX": 117, "legendY": 20, "labelFontSize": 14, "symbolSize": 50, "rowPadding": 4.5, "labelOffset": 5,
         "labelColor": {"expr": "datum.label == 'ΔspxBΔlctO' ? '#e8161d' : 'black'"},
         "labelFontStyle": {"expr": "datum.label == 'ΔspxBΔlctO' ? 'italic' : 'normal'"}}}
    }}
  ]
 },
 {
  "width": 132, "height": 170,
  "title": {"text": "B", "dx": -25, "offset": -18},
  "layer": [
   {"data": {"values": [{}]}, "mark": {"type": "rule", "color": "black", "strokeWidth": 1.2, "strokeDash": [2, 2]},
    "encoding": {"x": {"datum": 541, "type": "quantitative", "title": "Wavelength (nm)", "scale": {"domain": [500, 600], "nice": false, "zero": false}, "axis": {"titleFontSize": 12.5, "labelFontSize": 6, "labelOverlap": false, "values": [500,510,520,530,540,550,560,570,580,590,600], "labelExpr": "datum.value % 50 == 0 ? datum.label : ''", "tickSize": 3, "labelPadding": 2, "titlePadding": 4}}, "y": {"datum": 0.0345, "type": "quantitative", "title": "Absorbance", "scale": {"domain": [0.01, 0.065], "nice": false, "zero": false}, "axis": {"titleFontSize": 11.5, "labelFontSize": 6, "labelOverlap": false, "values": [0.012,0.014,0.016,0.018,0.02,0.022,0.024,0.026,0.028,0.03,0.032,0.034,0.036,0.038,0.04,0.042,0.044,0.046,0.048,0.05,0.052,0.054,0.056,0.058,0.06,0.062,0.064], "labelExpr": "abs(datum.value*50 - round(datum.value*50)) < 0.01 ? format(datum.value, '.2f') : ''", "tickSize": 3, "labelPadding": 2, "titlePadding": 2}}, "y2": {"datum": 0.0495}}},
   {"data": {"values": [{}]}, "mark": {"type": "rule", "color": "black", "strokeWidth": 1.2, "strokeDash": [2, 2]},
    "encoding": {"x": {"datum": 575, "type": "quantitative", "title": "Wavelength (nm)", "scale": {"domain": [500, 600], "nice": false, "zero": false}, "axis": {"titleFontSize": 12.5, "labelFontSize": 6, "labelOverlap": false, "values": [500,510,520,530,540,550,560,570,580,590,600], "labelExpr": "datum.value % 50 == 0 ? datum.label : ''", "tickSize": 3, "labelPadding": 2, "titlePadding": 4}}, "y": {"datum": 0.029, "type": "quantitative", "title": "Absorbance", "scale": {"domain": [0.01, 0.065], "nice": false, "zero": false}, "axis": {"titleFontSize": 11.5, "labelFontSize": 6, "labelOverlap": false, "values": [0.012,0.014,0.016,0.018,0.02,0.022,0.024,0.026,0.028,0.03,0.032,0.034,0.036,0.038,0.04,0.042,0.044,0.046,0.048,0.05,0.052,0.054,0.056,0.058,0.06,0.062,0.064], "labelExpr": "abs(datum.value*50 - round(datum.value*50)) < 0.01 ? format(datum.value, '.2f') : ''", "tickSize": 3, "labelPadding": 2, "titlePadding": 2}}, "y2": {"datum": 0.0462}}},
   {"data": {"values": [{}]}, "mark": {"type": "text", "text": "*", "fontSize": 22, "fontWeight": "bold", "color": "black", "baseline": "top"},
    "encoding": {"x": {"datum": 541, "type": "quantitative", "title": "Wavelength (nm)", "scale": {"domain": [500, 600], "nice": false, "zero": false}, "axis": {"titleFontSize": 12.5, "labelFontSize": 6, "labelOverlap": false, "values": [500,510,520,530,540,550,560,570,580,590,600], "labelExpr": "datum.value % 50 == 0 ? datum.label : ''", "tickSize": 3, "labelPadding": 2, "titlePadding": 4}}, "y": {"datum": 0.0333, "type": "quantitative", "title": "Absorbance", "scale": {"domain": [0.01, 0.065], "nice": false, "zero": false}, "axis": {"titleFontSize": 11.5, "labelFontSize": 6, "labelOverlap": false, "values": [0.012,0.014,0.016,0.018,0.02,0.022,0.024,0.026,0.028,0.03,0.032,0.034,0.036,0.038,0.04,0.042,0.044,0.046,0.048,0.05,0.052,0.054,0.056,0.058,0.06,0.062,0.064], "labelExpr": "abs(datum.value*50 - round(datum.value*50)) < 0.01 ? format(datum.value, '.2f') : ''", "tickSize": 3, "labelPadding": 2, "titlePadding": 2}}}},
   {"data": {"values": [{}]}, "mark": {"type": "text", "text": "*", "fontSize": 22, "fontWeight": "bold", "color": "black", "baseline": "top"},
    "encoding": {"x": {"datum": 575, "type": "quantitative", "title": "Wavelength (nm)", "scale": {"domain": [500, 600], "nice": false, "zero": false}, "axis": {"titleFontSize": 12.5, "labelFontSize": 6, "labelOverlap": false, "values": [500,510,520,530,540,550,560,570,580,590,600], "labelExpr": "datum.value % 50 == 0 ? datum.label : ''", "tickSize": 3, "labelPadding": 2, "titlePadding": 4}}, "y": {"datum": 0.0275, "type": "quantitative", "title": "Absorbance", "scale": {"domain": [0.01, 0.065], "nice": false, "zero": false}, "axis": {"titleFontSize": 11.5, "labelFontSize": 6, "labelOverlap": false, "values": [0.012,0.014,0.016,0.018,0.02,0.022,0.024,0.026,0.028,0.03,0.032,0.034,0.036,0.038,0.04,0.042,0.044,0.046,0.048,0.05,0.052,0.054,0.056,0.058,0.06,0.062,0.064], "labelExpr": "abs(datum.value*50 - round(datum.value*50)) < 0.01 ? format(datum.value, '.2f') : ''", "tickSize": 3, "labelPadding": 2, "titlePadding": 2}}}},
   {"data": {"values": [{}]}, "mark": {"type": "rule", "color": "black", "strokeWidth": 5},
    "encoding": {"x": {"datum": 591, "type": "quantitative", "title": "Wavelength (nm)", "scale": {"domain": [500, 600], "nice": false, "zero": false}, "axis": {"titleFontSize": 12.5, "labelFontSize": 6, "labelOverlap": false, "values": [500,510,520,530,540,550,560,570,580,590,600], "labelExpr": "datum.value % 50 == 0 ? datum.label : ''", "tickSize": 3, "labelPadding": 2, "titlePadding": 4}}, "x2": {"datum": 615}, "y": {"datum": 0.0571, "type": "quantitative", "title": "Absorbance", "scale": {"domain": [0.01, 0.065], "nice": false, "zero": false}, "axis": {"titleFontSize": 11.5, "labelFontSize": 6, "labelOverlap": false, "values": [0.012,0.014,0.016,0.018,0.02,0.022,0.024,0.026,0.028,0.03,0.032,0.034,0.036,0.038,0.04,0.042,0.044,0.046,0.048,0.05,0.052,0.054,0.056,0.058,0.06,0.062,0.064], "labelExpr": "abs(datum.value*50 - round(datum.value*50)) < 0.01 ? format(datum.value, '.2f') : ''", "tickSize": 3, "labelPadding": 2, "titlePadding": 2}}}},
   {"data": {"values": [{}]}, "mark": {"type": "point", "shape": "triangle-left", "filled": true, "color": "black", "size": 170, "opacity": 1},
    "encoding": {"x": {"datum": 589, "type": "quantitative", "title": "Wavelength (nm)", "scale": {"domain": [500, 600], "nice": false, "zero": false}, "axis": {"titleFontSize": 12.5, "labelFontSize": 6, "labelOverlap": false, "values": [500,510,520,530,540,550,560,570,580,590,600], "labelExpr": "datum.value % 50 == 0 ? datum.label : ''", "tickSize": 3, "labelPadding": 2, "titlePadding": 4}}, "y": {"datum": 0.0571, "type": "quantitative", "title": "Absorbance", "scale": {"domain": [0.01, 0.065], "nice": false, "zero": false}, "axis": {"titleFontSize": 11.5, "labelFontSize": 6, "labelOverlap": false, "values": [0.012,0.014,0.016,0.018,0.02,0.022,0.024,0.026,0.028,0.03,0.032,0.034,0.036,0.038,0.04,0.042,0.044,0.046,0.048,0.05,0.052,0.054,0.056,0.058,0.06,0.062,0.064], "labelExpr": "abs(datum.value*50 - round(datum.value*50)) < 0.01 ? format(datum.value, '.2f') : ''", "tickSize": 3, "labelPadding": 2, "titlePadding": 2}}}},
   {"data": {"values": [{}]}, "mark": {"type": "rule", "color": "black", "strokeWidth": 5},
    "encoding": {"x": {"datum": 627, "type": "quantitative", "title": "Wavelength (nm)", "scale": {"domain": [500, 600], "nice": false, "zero": false}, "axis": {"titleFontSize": 12.5, "labelFontSize": 6, "labelOverlap": false, "values": [500,510,520,530,540,550,560,570,580,590,600], "labelExpr": "datum.value % 50 == 0 ? datum.label : ''", "tickSize": 3, "labelPadding": 2, "titlePadding": 4}}, "x2": {"datum": 611}, "y": {"datum": 0.0236, "type": "quantitative", "title": "Absorbance", "scale": {"domain": [0.01, 0.065], "nice": false, "zero": false}, "axis": {"titleFontSize": 11.5, "labelFontSize": 6, "labelOverlap": false, "values": [0.012,0.014,0.016,0.018,0.02,0.022,0.024,0.026,0.028,0.03,0.032,0.034,0.036,0.038,0.04,0.042,0.044,0.046,0.048,0.05,0.052,0.054,0.056,0.058,0.06,0.062,0.064], "labelExpr": "abs(datum.value*50 - round(datum.value*50)) < 0.01 ? format(datum.value, '.2f') : ''", "tickSize": 3, "labelPadding": 2, "titlePadding": 2}}, "y2": {"datum": 0.0183}}},
   {"data": {"values": [{}]}, "mark": {"type": "point", "shape": "triangle-left", "filled": true, "color": "black", "size": 170, "opacity": 1, "angle": 325},
    "encoding": {"x": {"datum": 609, "type": "quantitative", "title": "Wavelength (nm)", "scale": {"domain": [500, 600], "nice": false, "zero": false}, "axis": {"titleFontSize": 12.5, "labelFontSize": 6, "labelOverlap": false, "values": [500,510,520,530,540,550,560,570,580,590,600], "labelExpr": "datum.value % 50 == 0 ? datum.label : ''", "tickSize": 3, "labelPadding": 2, "titlePadding": 4}}, "y": {"datum": 0.0177, "type": "quantitative", "title": "Absorbance", "scale": {"domain": [0.01, 0.065], "nice": false, "zero": false}, "axis": {"titleFontSize": 11.5, "labelFontSize": 6, "labelOverlap": false, "values": [0.012,0.014,0.016,0.018,0.02,0.022,0.024,0.026,0.028,0.03,0.032,0.034,0.036,0.038,0.04,0.042,0.044,0.046,0.048,0.05,0.052,0.054,0.056,0.058,0.06,0.062,0.064], "labelExpr": "abs(datum.value*50 - round(datum.value*50)) < 0.01 ? format(datum.value, '.2f') : ''", "tickSize": 3, "labelPadding": 2, "titlePadding": 2}}}},
   {"data": {"values": [{}]}, "mark": {"type": "text", "text": "Oxy-Hb", "fontSize": 19, "fontWeight": "bold", "color": "#e8161d", "angle": 270, "align": "center", "baseline": "middle"},
    "encoding": {"x": {"datum": 623, "type": "quantitative", "title": "Wavelength (nm)", "scale": {"domain": [500, 600], "nice": false, "zero": false}, "axis": {"titleFontSize": 12.5, "labelFontSize": 6, "labelOverlap": false, "values": [500,510,520,530,540,550,560,570,580,590,600], "labelExpr": "datum.value % 50 == 0 ? datum.label : ''", "tickSize": 3, "labelPadding": 2, "titlePadding": 4}}, "y": {"datum": 0.0563, "type": "quantitative", "title": "Absorbance", "scale": {"domain": [0.01, 0.065], "nice": false, "zero": false}, "axis": {"titleFontSize": 11.5, "labelFontSize": 6, "labelOverlap": false, "values": [0.012,0.014,0.016,0.018,0.02,0.022,0.024,0.026,0.028,0.03,0.032,0.034,0.036,0.038,0.04,0.042,0.044,0.046,0.048,0.05,0.052,0.054,0.056,0.058,0.06,0.062,0.064], "labelExpr": "abs(datum.value*50 - round(datum.value*50)) < 0.01 ? format(datum.value, '.2f') : ''", "tickSize": 3, "labelPadding": 2, "titlePadding": 2}}}},
   {"data": {"values": [{}]}, "mark": {"type": "text", "text": "met-Hb", "fontSize": 19, "fontWeight": "bold", "color": "#2a8f9a", "angle": 270, "align": "center", "baseline": "middle"},
    "encoding": {"x": {"datum": 640, "type": "quantitative", "title": "Wavelength (nm)", "scale": {"domain": [500, 600], "nice": false, "zero": false}, "axis": {"titleFontSize": 12.5, "labelFontSize": 6, "labelOverlap": false, "values": [500,510,520,530,540,550,560,570,580,590,600], "labelExpr": "datum.value % 50 == 0 ? datum.label : ''", "tickSize": 3, "labelPadding": 2, "titlePadding": 4}}, "y": {"datum": 0.0238, "type": "quantitative", "title": "Absorbance", "scale": {"domain": [0.01, 0.065], "nice": false, "zero": false}, "axis": {"titleFontSize": 11.5, "labelFontSize": 6, "labelOverlap": false, "values": [0.012,0.014,0.016,0.018,0.02,0.022,0.024,0.026,0.028,0.03,0.032,0.034,0.036,0.038,0.04,0.042,0.044,0.046,0.048,0.05,0.052,0.054,0.056,0.058,0.06,0.062,0.064], "labelExpr": "abs(datum.value*50 - round(datum.value*50)) < 0.01 ? format(datum.value, '.2f') : ''", "tickSize": 3, "labelPadding": 2, "titlePadding": 2}}}},
   {"data": {"name": "dA"}, "mark": {"type": "errorbar", "ticks": {"size": 5}, "thickness": 1.5, "clip": true},
    "encoding": {
     "x": {"field": "x", "type": "quantitative", "title": "Wavelength (nm)", "scale": {"domain": [500, 600], "nice": false, "zero": false}, "axis": {"titleFontSize": 12.5, "labelFontSize": 6, "labelOverlap": false, "values": [500,510,520,530,540,550,560,570,580,590,600], "labelExpr": "datum.value % 50 == 0 ? datum.label : ''", "tickSize": 3, "labelPadding": 2, "titlePadding": 4}},
     "y": {"field": "y", "type": "quantitative", "title": "Absorbance", "scale": {"domain": [0.01, 0.065], "nice": false, "zero": false}, "axis": {"titleFontSize": 11.5, "labelFontSize": 6, "labelOverlap": false, "values": [0.012,0.014,0.016,0.018,0.02,0.022,0.024,0.026,0.028,0.03,0.032,0.034,0.036,0.038,0.04,0.042,0.044,0.046,0.048,0.05,0.052,0.054,0.056,0.058,0.06,0.062,0.064], "labelExpr": "abs(datum.value*50 - round(datum.value*50)) < 0.01 ? format(datum.value, '.2f') : ''", "tickSize": 3, "labelPadding": 2, "titlePadding": 2}},
     "yError": {"field": "e"},
     "stroke": {"field": "s", "type": "nominal", "scale": {"domain": ["ΔspxBΔlctO", "TIGR4", "Uninfected"], "range": ["#e8161d", "#000000", "#23948f"]}, "legend": null}}},
   {"data": {"name": "dA"}, "mark": {"type": "line", "strokeWidth": 2, "clip": true},
    "encoding": {
     "x": {"field": "x", "type": "quantitative", "title": "Wavelength (nm)", "scale": {"domain": [500, 600], "nice": false, "zero": false}, "axis": {"titleFontSize": 12.5, "labelFontSize": 6, "labelOverlap": false, "values": [500,510,520,530,540,550,560,570,580,590,600], "labelExpr": "datum.value % 50 == 0 ? datum.label : ''", "tickSize": 3, "labelPadding": 2, "titlePadding": 4}},
     "y": {"field": "y", "type": "quantitative", "title": "Absorbance", "scale": {"domain": [0.01, 0.065], "nice": false, "zero": false}, "axis": {"titleFontSize": 11.5, "labelFontSize": 6, "labelOverlap": false, "values": [0.012,0.014,0.016,0.018,0.02,0.022,0.024,0.026,0.028,0.03,0.032,0.034,0.036,0.038,0.04,0.042,0.044,0.046,0.048,0.05,0.052,0.054,0.056,0.058,0.06,0.062,0.064], "labelExpr": "abs(datum.value*50 - round(datum.value*50)) < 0.01 ? format(datum.value, '.2f') : ''", "tickSize": 3, "labelPadding": 2, "titlePadding": 2}},
     "stroke": {"field": "s", "type": "nominal", "scale": {"domain": ["ΔspxBΔlctO", "TIGR4", "Uninfected"], "range": ["#e8161d", "#000000", "#23948f"]}, "legend": null}}},
   {"data": {"name": "dA"}, "mark": {"type": "point", "filled": true, "size": 22, "opacity": 1, "clip": true},
    "encoding": {
     "x": {"field": "x", "type": "quantitative", "title": "Wavelength (nm)", "scale": {"domain": [500, 600], "nice": false, "zero": false}, "axis": {"titleFontSize": 12.5, "labelFontSize": 6, "labelOverlap": false, "values": [500,510,520,530,540,550,560,570,580,590,600], "labelExpr": "datum.value % 50 == 0 ? datum.label : ''", "tickSize": 3, "labelPadding": 2, "titlePadding": 4}},
     "y": {"field": "y", "type": "quantitative", "title": "Absorbance", "scale": {"domain": [0.01, 0.065], "nice": false, "zero": false}, "axis": {"titleFontSize": 11.5, "labelFontSize": 6, "labelOverlap": false, "values": [0.012,0.014,0.016,0.018,0.02,0.022,0.024,0.026,0.028,0.03,0.032,0.034,0.036,0.038,0.04,0.042,0.044,0.046,0.048,0.05,0.052,0.054,0.056,0.058,0.06,0.062,0.064], "labelExpr": "abs(datum.value*50 - round(datum.value*50)) < 0.01 ? format(datum.value, '.2f') : ''", "tickSize": 3, "labelPadding": 2, "titlePadding": 2}},
     "color": {"field": "s", "type": "nominal", "scale": {"domain": ["Uninfected", "TIGR4", "ΔspxBΔlctO"], "range": ["#23948f", "#000000", "#e8161d"]}, "legend": null},
     "shape": {"field": "s", "type": "nominal", "scale": {"domain": ["Uninfected", "TIGR4", "ΔspxBΔlctO"], "range": ["triangle-up", "square", "diamond"]}, "legend": null}
    }}
  ]
 }
 ]
},
{
 "align": "none",
 "spacing": 15,
 "resolve": {"scale": {"x": "independent", "y": "independent", "color": "independent", "shape": "independent", "stroke": "independent"}},
 "vconcat": [
{
 "align": "none",
 "spacing": 23,
 "resolve": {"scale": {"x": "independent", "y": "independent", "color": "independent", "shape": "independent", "stroke": "independent"}},
 "hconcat": [
 {
  "width": 225, "height": 150,
  "title": {"text": "C", "dx": -46, "offset": 4},
  "layer": [
   {"data": {"values": [{}]}, "mark": {"type": "text", "text": "*", "fontSize": 24, "fontWeight": "bold", "color": "black", "baseline": "top"},
    "encoding": {"x": {"datum": 407, "type": "quantitative", "title": "Wavelength (nm)", "scale": {"domain": [360, 460], "nice": false, "zero": false}, "axis": {"titleFontSize": 14, "labelFontSize": 10.5, "labelOverlap": false, "values": [360,380,400,420,440,460], "tickSize": 4, "labelPadding": 2, "titlePadding": 4}}, "y": {"datum": 0.371, "type": "quantitative", "title": "Absorbance", "scale": {"domain": [0.015, 1.0], "nice": false, "zero": false}, "axis": {"titleFontSize": 14, "labelFontSize": 10.5, "labelOverlap": false, "values": [0.2,0.4,0.6,0.8,1.0], "format": ".1f", "tickSize": 3, "labelPadding": 2, "titlePadding": 4}}}},
   {"data": {"values": [{}]}, "mark": {"type": "text", "text": "*", "fontSize": 24, "fontWeight": "bold", "color": "black", "baseline": "top"},
    "encoding": {"x": {"datum": 407, "type": "quantitative", "title": "Wavelength (nm)", "scale": {"domain": [360, 460], "nice": false, "zero": false}, "axis": {"titleFontSize": 14, "labelFontSize": 10.5, "labelOverlap": false, "values": [360,380,400,420,440,460], "tickSize": 4, "labelPadding": 2, "titlePadding": 4}}, "y": {"datum": 0.147, "type": "quantitative", "title": "Absorbance", "scale": {"domain": [0.015, 1.0], "nice": false, "zero": false}, "axis": {"titleFontSize": 14, "labelFontSize": 10.5, "labelOverlap": false, "values": [0.2,0.4,0.6,0.8,1.0], "format": ".1f", "tickSize": 3, "labelPadding": 2, "titlePadding": 4}}}},
   {"data": {"name": "dC"}, "mark": {"type": "errorbar", "ticks": {"size": 7}, "thickness": 1.5},
    "encoding": {
     "x": {"field": "x", "type": "quantitative", "title": "Wavelength (nm)", "scale": {"domain": [360, 460], "nice": false, "zero": false}, "axis": {"titleFontSize": 14, "labelFontSize": 10.5, "labelOverlap": false, "values": [360,380,400,420,440,460], "tickSize": 4, "labelPadding": 2, "titlePadding": 4}},
     "y": {"field": "y", "type": "quantitative", "title": "Absorbance", "scale": {"domain": [0.015, 1.0], "nice": false, "zero": false}, "axis": {"titleFontSize": 14, "labelFontSize": 10.5, "labelOverlap": false, "values": [0.2,0.4,0.6,0.8,1.0], "format": ".1f", "tickSize": 3, "labelPadding": 2, "titlePadding": 4}},
     "yError": {"field": "e"},
     "stroke": {"field": "s", "type": "nominal", "scale": {"domain": ["+TIGR4 6 h", "+TIGR4 2 h", "Hb (Fe³⁺)/2 h", "Hb (Fe²⁺)"], "range": ["#000000", "#f5287a", "#561a94", "#23948f"]}, "legend": null}}},
   {"data": {"name": "dC"}, "mark": {"type": "line", "strokeWidth": 2.5},
    "encoding": {
     "x": {"field": "x", "type": "quantitative", "title": "Wavelength (nm)", "scale": {"domain": [360, 460], "nice": false, "zero": false}, "axis": {"titleFontSize": 14, "labelFontSize": 10.5, "labelOverlap": false, "values": [360,380,400,420,440,460], "tickSize": 4, "labelPadding": 2, "titlePadding": 4}},
     "y": {"field": "y", "type": "quantitative", "title": "Absorbance", "scale": {"domain": [0.015, 1.0], "nice": false, "zero": false}, "axis": {"titleFontSize": 14, "labelFontSize": 10.5, "labelOverlap": false, "values": [0.2,0.4,0.6,0.8,1.0], "format": ".1f", "tickSize": 3, "labelPadding": 2, "titlePadding": 4}},
     "stroke": {"field": "s", "type": "nominal", "scale": {"domain": ["+TIGR4 6 h", "+TIGR4 2 h", "Hb (Fe³⁺)/2 h", "Hb (Fe²⁺)"], "range": ["#000000", "#f5287a", "#561a94", "#23948f"]}, "legend": null}}},
   {"data": {"name": "dC"}, "mark": {"type": "point", "filled": true, "size": 75, "opacity": 1},
    "encoding": {
     "x": {"field": "x", "type": "quantitative", "title": "Wavelength (nm)", "scale": {"domain": [360, 460], "nice": false, "zero": false}, "axis": {"titleFontSize": 14, "labelFontSize": 10.5, "labelOverlap": false, "values": [360,380,400,420,440,460], "tickSize": 4, "labelPadding": 2, "titlePadding": 4}},
     "y": {"field": "y", "type": "quantitative", "title": "Absorbance", "scale": {"domain": [0.015, 1.0], "nice": false, "zero": false}, "axis": {"titleFontSize": 14, "labelFontSize": 10.5, "labelOverlap": false, "values": [0.2,0.4,0.6,0.8,1.0], "format": ".1f", "tickSize": 3, "labelPadding": 2, "titlePadding": 4}},
     "color": {"field": "s", "type": "nominal", "scale": {"domain": ["Hb (Fe²⁺)", "Hb (Fe³⁺)/2 h", "+TIGR4 2 h", "+TIGR4 6 h"], "range": ["#23948f", "#561a94", "#f5287a", "#000000"]},
       "legend": {"title": null, "orient": "none", "legendX": 164, "legendY": 0, "labelFontSize": 15, "symbolSize": 110, "rowPadding": 11, "labelOffset": 10}},
     "shape": {"field": "s", "type": "nominal", "scale": {"domain": ["Hb (Fe²⁺)", "Hb (Fe³⁺)/2 h", "+TIGR4 2 h", "+TIGR4 6 h"], "range": ["triangle-up", "square", "diamond", "triangle-up"]},
       "legend": {"title": null, "orient": "none", "legendX": 164, "legendY": 0, "labelFontSize": 15, "symbolSize": 110, "rowPadding": 11, "labelOffset": 10}}
    }}
  ]
 },
 {
  "width": 224, "height": 148,
  "title": {"text": "D", "dx": -32, "offset": 4},
  "layer": [
   {"data": {"values": [{}]}, "mark": {"type": "text", "text": "*", "fontSize": 24, "fontWeight": "bold", "color": "black", "baseline": "top"},
    "encoding": {"x": {"datum": 405.8, "type": "quantitative", "title": "Wavelength (nm)", "scale": {"domain": [360, 460], "nice": false, "zero": false}, "axis": {"titleFontSize": 14, "labelFontSize": 10.5, "labelOverlap": false, "values": [360,380,400,420,440,460], "tickSize": 4, "labelPadding": 2, "titlePadding": 4}}, "y": {"datum": 0.18, "type": "quantitative", "title": "Absorbance", "scale": {"domain": [0.015, 1.0], "nice": false, "zero": false}, "axis": {"titleFontSize": 14, "labelFontSize": 10.5, "labelOverlap": false, "values": [0.2,0.4,0.6,0.8,1.0], "format": ".1f", "tickSize": 3, "labelPadding": 2, "titlePadding": 4}}}},
   {"data": {"name": "dD"}, "mark": {"type": "errorbar", "ticks": {"size": 7}, "thickness": 1.5},
    "encoding": {
     "x": {"field": "x", "type": "quantitative", "title": "Wavelength (nm)", "scale": {"domain": [360, 460], "nice": false, "zero": false}, "axis": {"titleFontSize": 14, "labelFontSize": 10.5, "labelOverlap": false, "values": [360,380,400,420,440,460], "tickSize": 4, "labelPadding": 2, "titlePadding": 4}},
     "y": {"field": "y", "type": "quantitative", "title": "Absorbance", "scale": {"domain": [0.015, 1.0], "nice": false, "zero": false}, "axis": {"titleFontSize": 14, "labelFontSize": 10.5, "labelOverlap": false, "values": [0.2,0.4,0.6,0.8,1.0], "format": ".1f", "tickSize": 3, "labelPadding": 2, "titlePadding": 4}},
     "yError": {"field": "e"},
     "stroke": {"field": "s", "type": "nominal", "scale": {"domain": ["+ΩspxBΩlctO", "+ΔspxBΔlctO", "+TIGR4", "Hb (Fe⁺²)"], "range": ["#561a94", "#000000", "#f5287a", "#23948f"]}, "legend": null}}},
   {"data": {"name": "dD"}, "mark": {"type": "line", "strokeWidth": 2.5},
    "encoding": {
     "x": {"field": "x", "type": "quantitative", "title": "Wavelength (nm)", "scale": {"domain": [360, 460], "nice": false, "zero": false}, "axis": {"titleFontSize": 14, "labelFontSize": 10.5, "labelOverlap": false, "values": [360,380,400,420,440,460], "tickSize": 4, "labelPadding": 2, "titlePadding": 4}},
     "y": {"field": "y", "type": "quantitative", "title": "Absorbance", "scale": {"domain": [0.015, 1.0], "nice": false, "zero": false}, "axis": {"titleFontSize": 14, "labelFontSize": 10.5, "labelOverlap": false, "values": [0.2,0.4,0.6,0.8,1.0], "format": ".1f", "tickSize": 3, "labelPadding": 2, "titlePadding": 4}},
     "stroke": {"field": "s", "type": "nominal", "scale": {"domain": ["+ΩspxBΩlctO", "+ΔspxBΔlctO", "+TIGR4", "Hb (Fe⁺²)"], "range": ["#561a94", "#000000", "#f5287a", "#23948f"]}, "legend": null}}},
   {"data": {"name": "dD"}, "mark": {"type": "point", "filled": true, "size": 75, "opacity": 1},
    "encoding": {
     "x": {"field": "x", "type": "quantitative", "title": "Wavelength (nm)", "scale": {"domain": [360, 460], "nice": false, "zero": false}, "axis": {"titleFontSize": 14, "labelFontSize": 10.5, "labelOverlap": false, "values": [360,380,400,420,440,460], "tickSize": 4, "labelPadding": 2, "titlePadding": 4}},
     "y": {"field": "y", "type": "quantitative", "title": "Absorbance", "scale": {"domain": [0.015, 1.0], "nice": false, "zero": false}, "axis": {"titleFontSize": 14, "labelFontSize": 10.5, "labelOverlap": false, "values": [0.2,0.4,0.6,0.8,1.0], "format": ".1f", "tickSize": 3, "labelPadding": 2, "titlePadding": 4}},
     "color": {"field": "s", "type": "nominal", "scale": {"domain": ["Hb (Fe⁺²)", "+TIGR4", "+ΔspxBΔlctO", "+ΩspxBΩlctO"], "range": ["#23948f", "#f5287a", "#000000", "#561a94"]},
       "legend": {"title": null, "orient": "none", "legendX": 172, "legendY": 20.5, "labelFontSize": 15, "symbolSize": 110, "rowPadding": 11, "labelOffset": 10,
        "labelFontStyle": {"expr": "indexof(datum.label, 'spx') >= 0 ? 'italic' : 'normal'"}}},
     "shape": {"field": "s", "type": "nominal", "scale": {"domain": ["Hb (Fe⁺²)", "+TIGR4", "+ΔspxBΔlctO", "+ΩspxBΩlctO"], "range": ["triangle-up", "triangle-down", "diamond", "square"]},
       "legend": {"title": null, "orient": "none", "legendX": 172, "legendY": 20.5, "labelFontSize": 15, "symbolSize": 110, "rowPadding": 11, "labelOffset": 10,
        "labelFontStyle": {"expr": "indexof(datum.label, 'spx') >= 0 ? 'italic' : 'normal'"}}}
    }}
  ]
 }
 ]
},
{
 "align": "none",
 "spacing": 43,
 "resolve": {"scale": {"x": "independent", "y": "independent", "color": "independent", "shape": "independent", "stroke": "independent"}},
 "hconcat": [
 {
  "width": 224, "height": 148,
  "title": {"text": "E", "dx": -46, "offset": -12.5},
  "layer": [
   {"data": {"values": [{}]}, "mark": {"type": "rule", "color": "black", "strokeWidth": 1.2, "strokeDash": [2, 2]},
    "encoding": {"x": {"datum": 405, "type": "quantitative", "title": "Wavelength (nm)", "scale": {"domain": [360, 460], "nice": false, "zero": false}, "axis": {"titleFontSize": 14, "labelFontSize": 10.5, "labelOverlap": false, "values": [360,380,400,420,440,460], "tickSize": 4, "labelPadding": 2, "titlePadding": 4}}, "y": {"datum": 0.25, "type": "quantitative", "title": "Absorbance", "scale": {"domain": [0.018, 1.0], "nice": false, "zero": false}, "axis": {"titleFontSize": 14, "labelFontSize": 10.5, "labelOverlap": false, "values": [0.2,0.4,0.6,0.8,1.0], "format": ".1f", "tickSize": 3, "labelPadding": 2, "titlePadding": 4}}, "y2": {"datum": 0.606}}},
   {"data": {"values": [{}]}, "mark": {"type": "text", "text": "*", "fontSize": 24, "fontWeight": "bold", "color": "black", "baseline": "top"},
    "encoding": {"x": {"datum": 404.6, "type": "quantitative", "title": "Wavelength (nm)", "scale": {"domain": [360, 460], "nice": false, "zero": false}, "axis": {"titleFontSize": 14, "labelFontSize": 10.5, "labelOverlap": false, "values": [360,380,400,420,440,460], "tickSize": 4, "labelPadding": 2, "titlePadding": 4}}, "y": {"datum": 0.216, "type": "quantitative", "title": "Absorbance", "scale": {"domain": [0.018, 1.0], "nice": false, "zero": false}, "axis": {"titleFontSize": 14, "labelFontSize": 10.5, "labelOverlap": false, "values": [0.2,0.4,0.6,0.8,1.0], "format": ".1f", "tickSize": 3, "labelPadding": 2, "titlePadding": 4}}}},
   {"data": {"name": "dE"}, "mark": {"type": "errorbar", "ticks": {"size": 7}, "thickness": 1.5},
    "encoding": {
     "x": {"field": "x", "type": "quantitative", "title": "Wavelength (nm)", "scale": {"domain": [360, 460], "nice": false, "zero": false}, "axis": {"titleFontSize": 14, "labelFontSize": 10.5, "labelOverlap": false, "values": [360,380,400,420,440,460], "tickSize": 4, "labelPadding": 2, "titlePadding": 4}},
     "y": {"field": "y", "type": "quantitative", "title": "Absorbance", "scale": {"domain": [0.018, 1.0], "nice": false, "zero": false}, "axis": {"titleFontSize": 14, "labelFontSize": 10.5, "labelOverlap": false, "values": [0.2,0.4,0.6,0.8,1.0], "format": ".1f", "tickSize": 3, "labelPadding": 2, "titlePadding": 4}},
     "yError": {"field": "e"},
     "stroke": {"field": "s", "type": "nominal", "scale": {"domain": ["Catalase", "+ΩspxBΩlctO", "+ΔspxBΔlctO", "TIGR4", "Hb (Fe⁺³)"], "range": ["#000000", "#b07ff2", "#561a94", "#23948f", "#f5287a"]}, "legend": null}}},
   {"data": {"name": "dE"}, "mark": {"type": "line", "strokeWidth": 2.5},
    "encoding": {
     "x": {"field": "x", "type": "quantitative", "title": "Wavelength (nm)", "scale": {"domain": [360, 460], "nice": false, "zero": false}, "axis": {"titleFontSize": 14, "labelFontSize": 10.5, "labelOverlap": false, "values": [360,380,400,420,440,460], "tickSize": 4, "labelPadding": 2, "titlePadding": 4}},
     "y": {"field": "y", "type": "quantitative", "title": "Absorbance", "scale": {"domain": [0.018, 1.0], "nice": false, "zero": false}, "axis": {"titleFontSize": 14, "labelFontSize": 10.5, "labelOverlap": false, "values": [0.2,0.4,0.6,0.8,1.0], "format": ".1f", "tickSize": 3, "labelPadding": 2, "titlePadding": 4}},
     "stroke": {"field": "s", "type": "nominal", "scale": {"domain": ["Catalase", "+ΩspxBΩlctO", "+ΔspxBΔlctO", "TIGR4", "Hb (Fe⁺³)"], "range": ["#000000", "#b07ff2", "#561a94", "#23948f", "#f5287a"]}, "legend": null}}},
   {"data": {"name": "dE"}, "mark": {"type": "point", "filled": true, "size": 85, "opacity": 1},
    "encoding": {
     "x": {"field": "x", "type": "quantitative", "title": "Wavelength (nm)", "scale": {"domain": [360, 460], "nice": false, "zero": false}, "axis": {"titleFontSize": 14, "labelFontSize": 10.5, "labelOverlap": false, "values": [360,380,400,420,440,460], "tickSize": 4, "labelPadding": 2, "titlePadding": 4}},
     "y": {"field": "y", "type": "quantitative", "title": "Absorbance", "scale": {"domain": [0.018, 1.0], "nice": false, "zero": false}, "axis": {"titleFontSize": 14, "labelFontSize": 10.5, "labelOverlap": false, "values": [0.2,0.4,0.6,0.8,1.0], "format": ".1f", "tickSize": 3, "labelPadding": 2, "titlePadding": 4}},
     "color": {"field": "s", "type": "nominal", "scale": {"domain": ["Hb (Fe⁺³)", "TIGR4", "+ΔspxBΔlctO", "+ΩspxBΩlctO", "Catalase"], "range": ["#f5287a", "#23948f", "#561a94", "#b07ff2", "#000000"]},
       "legend": {"title": null, "orient": "none", "legendX": 166, "legendY": -11.5, "labelFontSize": 15, "symbolSize": 110, "rowPadding": 9.25, "labelOffset": 10,
        "labelFontStyle": {"expr": "indexof(datum.label, 'spx') >= 0 ? 'italic' : 'normal'"}}},
     "shape": {"field": "s", "type": "nominal", "scale": {"domain": ["Hb (Fe⁺³)", "TIGR4", "+ΔspxBΔlctO", "+ΩspxBΩlctO", "Catalase"], "range": ["square", "circle", "triangle-down", "diamond", "square"]},
       "legend": {"title": null, "orient": "none", "legendX": 166, "legendY": -11.5, "labelFontSize": 15, "symbolSize": 110, "rowPadding": 9.25, "labelOffset": 10,
        "labelFontStyle": {"expr": "indexof(datum.label, 'spx') >= 0 ? 'italic' : 'normal'"}}}
    }}
  ]
 },
 {
  "width": 125, "height": 125,
  "title": {"text": "F", "dx": -72, "offset": -6},
  "layer": [
   {"data": {"name": "dF"}, "mark": {"type": "bar", "fill": "#d4d4d4", "stroke": "black", "strokeWidth": 1.5},
    "encoding": {
     "x": {"field": "c", "type": "nominal", "sort": null, "title": null, "scale": {"paddingInner": 0.36, "paddingOuter": 0.34}, "axis": {"labelAngle": -45, "labelFontSize": 11, "labelOverlap": false, "tickSize": 4, "labelPadding": 2}},
     "y": {"field": "y", "type": "quantitative", "title": ["Absorbance", "(405 nm)"], "scale": {"domain": [0.008, 1.0], "nice": false, "zero": false}, "axis": {"titleFontSize": 12.5, "labelFontSize": 10, "labelOverlap": false, "values": [0.2,0.4,0.6,0.8,1.0], "format": ".1f", "tickSize": 3, "labelPadding": 2, "titlePadding": 4}}}},
   {"data": {"name": "dF"}, "mark": {"type": "errorbar", "ticks": {"size": 7}, "thickness": 1.5, "color": "black"},
    "encoding": {
     "x": {"field": "c", "type": "nominal", "sort": null, "title": null, "scale": {"paddingInner": 0.36, "paddingOuter": 0.34}, "axis": {"labelAngle": -45, "labelFontSize": 11, "labelOverlap": false, "tickSize": 4, "labelPadding": 2}},
     "y": {"field": "y", "type": "quantitative", "title": ["Absorbance", "(405 nm)"], "scale": {"domain": [0.008, 1.0], "nice": false, "zero": false}, "axis": {"titleFontSize": 12.5, "labelFontSize": 10, "labelOverlap": false, "values": [0.2,0.4,0.6,0.8,1.0], "format": ".1f", "tickSize": 3, "labelPadding": 2, "titlePadding": 4}},
     "yError": {"field": "e"}}},
   {"data": {"name": "dFp"}, "mark": {"type": "point", "filled": true, "color": "black", "size": 28, "opacity": 1},
    "encoding": {
     "x": {"field": "c", "type": "nominal", "sort": null, "title": null, "scale": {"paddingInner": 0.36, "paddingOuter": 0.34}, "axis": {"labelAngle": -45, "labelFontSize": 11, "labelOverlap": false, "tickSize": 4, "labelPadding": 2}},
     "y": {"field": "y", "type": "quantitative", "title": ["Absorbance", "(405 nm)"], "scale": {"domain": [0.008, 1.0], "nice": false, "zero": false}, "axis": {"titleFontSize": 12.5, "labelFontSize": 10, "labelOverlap": false, "values": [0.2,0.4,0.6,0.8,1.0], "format": ".1f", "tickSize": 3, "labelPadding": 2, "titlePadding": 4}},
     "xOffset": {"field": "r", "type": "nominal"},
     "shape": {"field": "c", "type": "nominal", "scale": {"domain": ["Hb-Fe³⁺", "8.8 µM", "88 µM", "880 µM", "8800 µM"], "range": ["circle", "diamond", "triangle-down", "triangle-up", "square"]}, "legend": null}}},
   {"data": {"values": [{"c": "88 µM", "y": 0.919}, {"c": "880 µM", "y": 0.681}, {"c": "8800 µM", "y": 0.147}]}, "mark": {"type": "text", "text": "*", "fontSize": 22, "fontWeight": "bold", "color": "black", "baseline": "top"},
    "encoding": {
     "x": {"field": "c", "type": "nominal", "sort": null, "title": null, "scale": {"paddingInner": 0.36, "paddingOuter": 0.34}, "axis": {"labelAngle": -45, "labelFontSize": 11, "labelOverlap": false, "tickSize": 4, "labelPadding": 2}},
     "y": {"field": "y", "type": "quantitative", "title": ["Absorbance", "(405 nm)"], "scale": {"domain": [0.008, 1.0], "nice": false, "zero": false}, "axis": {"titleFontSize": 12.5, "labelFontSize": 10, "labelOverlap": false, "values": [0.2,0.4,0.6,0.8,1.0], "format": ".1f", "tickSize": 3, "labelPadding": 2, "titlePadding": 4}}}}
  ]
 }
 ]
}
 ]
}
]
}
